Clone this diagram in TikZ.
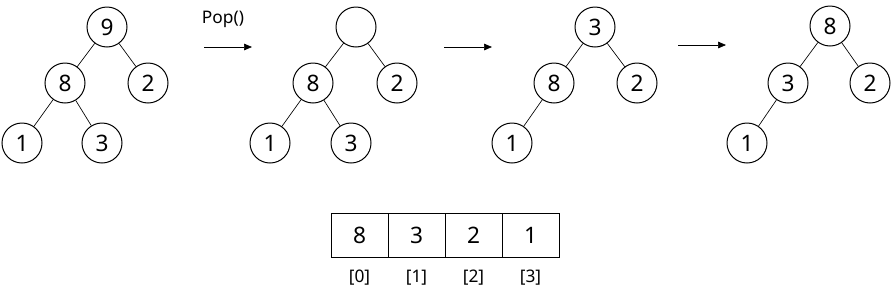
\documentclass[tikz,border=0pt]{standalone}
\usepackage{fontspec}
\setmainfont{Noto Sans}
\usetikzlibrary{arrows.meta, positioning}

\begin{document}
\begin{tikzpicture}[
    x=0.75pt, y=-0.75pt,
    >=Triangle,
    % Estilos de nodos
    heapnode/.style={
        circle,
        draw=black,
        fill=white,
        line width=0.75pt,
        minimum size=30pt,
        inner sep=0pt,
        font=\fontsize{17}{20}\selectfont
    },
    cellbox/.style={
        rectangle,
        draw=black,
        line width=0.75pt,
        outer sep=0pt,
        minimum width=42.75pt,
        minimum height=33pt,
        inner sep=0pt,
        font=\fontsize{17}{20}\selectfont
    },
    idxtext/.style={
        font=\fontsize{13}{15}\selectfont
    },
    edge/.style={
        draw=black,
        line width=0.5pt
    },
    step arrow/.style={
        draw=black,
        ->,
        line width=0.5pt,
        >={Triangle[length=6pt, width=5pt]}
    }
]
    \useasboundingbox (0,0) rectangle (891,297);

    % ==========================================
    % 1. HEAP ORIGINAL
    % ==========================================
    \node[heapnode] (a9) at (107,27) {9};
    \node[heapnode] (a8) at (65,83) {8};
    \node[heapnode] (a2) at (148,83) {2};
    \node[heapnode] (a1) at (22,143) {1};
    \node[heapnode] (a3) at (102,143) {3};
    \draw[edge] (a9) -- (a8);
    \draw[edge] (a9) -- (a2);
    \draw[edge] (a8) -- (a1);
    \draw[edge] (a8) -- (a3);

    % ==========================================
    % 2. RAIZ VACIA
    % ==========================================
    \node[heapnode] (b0) at (356,27) {};
    \node[heapnode] (b8) at (313,83) {8};
    \node[heapnode] (b2) at (397,83) {2};
    \node[heapnode] (b1) at (270,143) {1};
    \node[heapnode] (b3) at (351,143) {3};
    \draw[edge] (b0) -- (b8);
    \draw[edge] (b0) -- (b2);
    \draw[edge] (b8) -- (b1);
    \draw[edge] (b8) -- (b3);

    % ==========================================
    % 3. ULTIMO NODO A LA RAIZ
    % ==========================================
    \node[heapnode] (c3) at (595,27) {3};
    \node[heapnode] (c8) at (554,83) {8};
    \node[heapnode] (c2) at (637,83) {2};
    \node[heapnode] (c1) at (512,143) {1};
    \draw[edge] (c3) -- (c8);
    \draw[edge] (c3) -- (c2);
    \draw[edge] (c8) -- (c1);

    % ==========================================
    % 4. HEAP REORDENADO
    % ==========================================
    \node[heapnode] (d8) at (830,26) {8};
    \node[heapnode] (d3) at (788,83) {3};
    \node[heapnode] (d2) at (870,83) {2};
    \node[heapnode] (d1) at (747,143) {1};
    \draw[edge] (d8) -- (d3);
    \draw[edge] (d8) -- (d2);
    \draw[edge] (d3) -- (d1);

    % ==========================================
    % FLECHAS ENTRE PASOS
    % ==========================================
    \coordinate (s1) at (204,47);
    \coordinate (e1) at (252,47);
    \coordinate (s2) at (444,47);
    \coordinate (e2) at (492,47);
    \coordinate (s3) at (678,45);
    \coordinate (e3) at (726,45);
    \draw[step arrow] (s1) -- (e1);
    \draw[step arrow] (s2) -- (e2);
    \draw[step arrow] (s3) -- (e3);
    \node[idxtext] (poplabel) at (223,19) {Pop()};

    % ==========================================
    % ARREGLO RESULTANTE
    % ==========================================
    \node[cellbox] (v0) at (359.5,235) {8};
    \node[cellbox, right=0pt of v0] (v1) {3};
    \node[cellbox, right=0pt of v1] (v2) {2};
    \node[cellbox, right=0pt of v2] (v3) {1};

    \node[idxtext, below=6pt of v0] (i0) {[0]};
    \node[idxtext, below=6pt of v1] (i1) {[1]};
    \node[idxtext, below=6pt of v2] (i2) {[2]};
    \node[idxtext, below=6pt of v3] (i3) {[3]};

\end{tikzpicture}
\end{document}
